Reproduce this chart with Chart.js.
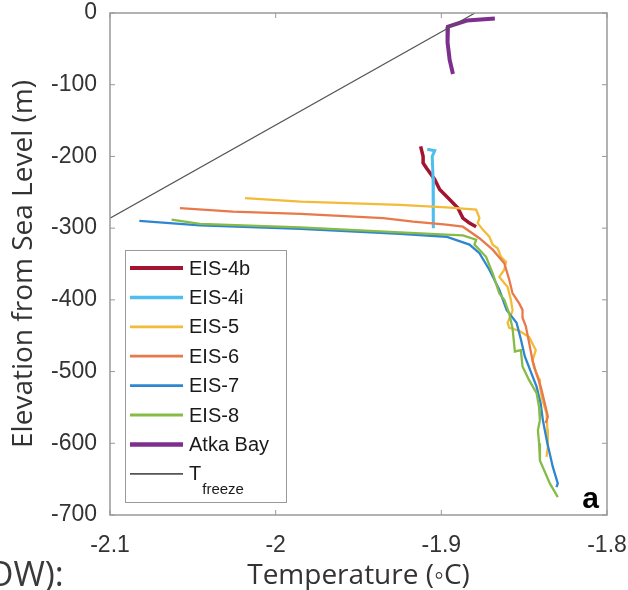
<!DOCTYPE html>
<html>
<head>
<meta charset="utf-8">
<script src="https://cdn.jsdelivr.net/npm/chart.js@4.4.1/dist/chart.umd.min.js"></script>
<style>
  body { margin: 0; background: #fff; }
  #wrap { position: relative; width: 628px; height: 590px; overflow: hidden; }
  #cut { position: absolute; left: -13px; top: 550px; font: 34px "Open Sans"; color: #3a3a3a; white-space: nowrap; }
</style>
</head>
<body>
<div id="wrap">
  <canvas id="myChart" width="628" height="590"></canvas>
  <div id="cut">OW):</div>
</div>
<script>
// temperature (°C) vs elevation (m) profiles
const eis4bTemp = [-1.9125, -1.911, -1.911, -1.909, -1.904, -1.901, -1.895, -1.890, -1.887, -1.883, -1.879]
const eis4bElev = [-186, -200, -209, -216, -232, -246, -260, -272, -286, -293, -298]

const eis4iTemp = [-1.9085, -1.904, -1.9055, -1.905, -1.9045, -1.905, -1.905]
const eis4iElev = [-190, -192, -200, -230, -260, -285, -300]

const eis5Temp = [-2.0185, -1.985, -1.925, -1.897, -1.879, -1.877, -1.878, -1.875, -1.871, -1.869, -1.866, -1.864, -1.861, -1.862, -1.865, -1.860, -1.858, -1.857, -1.860, -1.859, -1.853, -1.847, -1.843, -1.845, -1.844, -1.841, -1.8405, -1.839, -1.8365, -1.836, -1.8357, -1.8365]
const eis5Elev = [-258, -263, -267.5, -271, -274, -286, -293, -302, -312, -323, -328, -340, -347, -358, -368, -382, -400, -415, -432, -439, -443, -452, -470, -485, -495, -510, -521, -540, -558, -580, -605, -619]

const eis6Temp = [-2.0578, -2.0258, -1.985, -1.935, -1.917, -1.897, -1.887, -1.877, -1.869, -1.862, -1.859, -1.857, -1.853, -1.851, -1.851, -1.849, -1.847, -1.845, -1.843, -1.840, -1.838, -1.8357, -1.837]
const eis6Elev = [-272, -277, -280, -286, -291, -295, -298, -314, -330, -349, -372, -391, -405, -414, -425, -437, -460, -484, -500, -521, -540, -563, -572]

const eis7Temp = [-2.0823, -2.0457, -1.985, -1.925, -1.897, -1.883, -1.877, -1.871, -1.865, -1.8606, -1.8546, -1.852, -1.8496, -1.8425, -1.840, -1.8387, -1.836, -1.8327, -1.8297, -1.8305]
const eis7Elev = [-290, -296, -301, -308, -312, -323, -335, -358, -386, -414, -432, -455, -479, -521, -545, -568, -600, -633, -656, -661]

const eis8Temp = [-2.0628, -2.0457, -1.985, -1.925, -1.897, -1.887, -1.879, -1.880, -1.873, -1.869, -1.865, -1.862, -1.859, -1.857, -1.8556, -1.852, -1.851, -1.847, -1.8425, -1.841, -1.8405, -1.8417, -1.841, -1.8405, -1.8345, -1.8297]
const eis8Elev = [-288, -294, -299, -306, -309, -310, -316, -323, -340, -363, -391, -400, -419, -440, -472, -470, -493, -512, -530, -550, -568, -582, -600, -624, -656, -675]

const atkaTemp = [-1.8677, -1.8846, -1.896, -1.8965, -1.896, -1.8955, -1.895, -1.894, -1.893]
const atkaElev = [-7.7, -10.5, -19, -30, -41, -55, -65, -75, -85]

const freezeTemp = [-2.1, -1.8797]
const freezeElev = [-286, 0]

const seriesLabels = ['EIS-4b', 'EIS-4i', 'EIS-5', 'EIS-6', 'EIS-7', 'EIS-8', 'Atka Bay', 'T_freeze']
const seriesTemps = [eis4bTemp, eis4iTemp, eis5Temp, eis6Temp, eis7Temp, eis8Temp, atkaTemp, freezeTemp]
const seriesElevs = [eis4bElev, eis4iElev, eis5Elev, eis6Elev, eis7Elev, eis8Elev, atkaElev, freezeElev]
const seriesColors = ['#a2142f', '#4dbeee', '#f3bb3a', '#e8794a', '#2f86d0', '#86bb48', '#7e2f8e', '#555555']
const seriesWidths = [3.5, 3, 2.3, 2.3, 2.3, 2.3, 4, 1.2]

const xTicks = [-2.1, -2, -1.9, -1.8]
const yTicks = [0, -100, -200, -300, -400, -500, -600, -700]

function toPoints(t, e) {
    return t.map((v, i) => ({ x: v, y: e[i] }))
}

// keep tick labels from pushing the plot area around
function noEdgePadding(scale) {
    scale.paddingTop = 0
    scale.paddingBottom = 0
    scale.paddingLeft = 0
    scale.paddingRight = 0
}

// box around the plot with inward tick marks on all four sides
const frameTicks = {
    id: 'frameTicks',
    afterDatasetsDraw(chart) {
        const { ctx, chartArea: a, scales } = chart
        ctx.save()
        ctx.strokeStyle = '#999'
        ctx.lineWidth = 1.5
        ctx.strokeRect(a.left, a.top, a.right - a.left, a.bottom - a.top)
        ctx.lineWidth = 1
        ctx.beginPath()
        xTicks.forEach(v => {
            const px = scales.x.getPixelForValue(v)
            ctx.moveTo(px, a.bottom); ctx.lineTo(px, a.bottom - 5)
            ctx.moveTo(px, a.top); ctx.lineTo(px, a.top + 5)
        })
        yTicks.forEach(v => {
            const py = scales.y.getPixelForValue(v)
            ctx.moveTo(a.left, py); ctx.lineTo(a.left + 5, py)
            ctx.moveTo(a.right, py); ctx.lineTo(a.right - 5, py)
        })
        ctx.stroke()

        // panel letter
        ctx.fillStyle = '#000'
        ctx.font = 'bold 30px "Liberation Sans"'
        ctx.textAlign = 'right'
        ctx.textBaseline = 'alphabetic'
        ctx.fillText('a', a.right - 8, a.bottom - 7)
        ctx.restore()
    }
}

// legend drawn by hand so T_freeze gets a subscript
const boxLegend = {
    id: 'boxLegend',
    afterDraw(chart) {
        const { ctx } = chart
        const x0 = 125, y0 = 250, w = 161, h = 252
        const rowH = 29.4
        ctx.save()
        ctx.fillStyle = '#fff'
        ctx.fillRect(x0, y0, w, h)
        ctx.strokeStyle = '#9a9a9a'
        ctx.lineWidth = 1
        ctx.strokeRect(x0 + 0.5, y0 + 0.5, w, h)
        chart.data.datasets.forEach((ds, i) => {
            const y = y0 + 18 + i * rowH
            ctx.strokeStyle = ds.borderColor
            ctx.lineWidth = Math.max(ds.borderWidth + 0.5, 1)
            ctx.beginPath()
            ctx.moveTo(x0 + 5, y)
            ctx.lineTo(x0 + 58, y)
            ctx.stroke()
            ctx.fillStyle = '#1a1a1a'
            ctx.textAlign = 'left'
            ctx.textBaseline = 'middle'
            const parts = ds.label.split('_')
            ctx.font = '20px "Liberation Sans"'
            ctx.fillText(parts[0], x0 + 64, y + 1)
            if (parts[1]) {
                const tw = ctx.measureText(parts[0]).width
                ctx.font = '15px "Liberation Sans"'
                ctx.fillText(parts[1], x0 + 64 + tw + 1, y + 16)
            }
        })
        ctx.restore()
    }
}

const ctx = document.getElementById('myChart')

new Chart(ctx, {
    type: 'scatter',
    data: {
        datasets: seriesLabels.map((label, i) => ({
            label: label,
            data: toPoints(seriesTemps[i], seriesElevs[i]),
            showLine: true,
            borderColor: seriesColors[i],
            backgroundColor: seriesColors[i],
            borderWidth: seriesWidths[i],
            pointRadius: 0,
            tension: 0,
            order: seriesLabels.length - i
        }))
    },
    options: {
        responsive: false,
        devicePixelRatio: 1,
        animation: false,
        layout: { padding: { left: 0, top: 13, right: 21, bottom: 0 } },
        plugins: {
            legend: { display: false },
            tooltip: { enabled: false }
        },
        scales: {
            x: {
                type: 'linear',
                min: -2.1,
                max: -1.8,
                afterBuildTicks: scale => { scale.ticks = xTicks.map(v => ({ value: v })) },
                afterFit: scale => { scale.height = 75; noEdgePadding(scale) },
                grid: { display: false, drawTicks: false },
                border: { display: false },
                ticks: {
                    padding: 17,
                    color: '#333',
                    font: { family: 'Liberation Sans', size: 23 },
                    callback: v => String(Number(v.toFixed(1)))
                },
                title: {
                    display: true,
                    text: 'Temperature (◦C)',
                    color: '#333',
                    font: { family: 'Open Sans', size: 28, lineHeight: 1 },
                    padding: { top: 0, bottom: 0 }
                }
            },
            y: {
                type: 'linear',
                min: -700,
                max: 0,
                afterBuildTicks: scale => { scale.ticks = yTicks.map(v => ({ value: v })) },
                afterFit: scale => { scale.width = 110; noEdgePadding(scale) },
                grid: { display: false, drawTicks: false },
                border: { display: false },
                ticks: {
                    padding: 13,
                    color: '#333',
                    font: { family: 'Liberation Sans', size: 23 }
                },
                title: {
                    display: true,
                    text: 'Elevation from Sea Level (m)',
                    color: '#333',
                    font: { family: 'Open Sans', size: 28, lineHeight: 1 },
                    padding: { top: 10, bottom: 0 }
                }
            }
        }
    },
    plugins: [frameTicks, boxLegend]
})
</script>
</body>
</html>
